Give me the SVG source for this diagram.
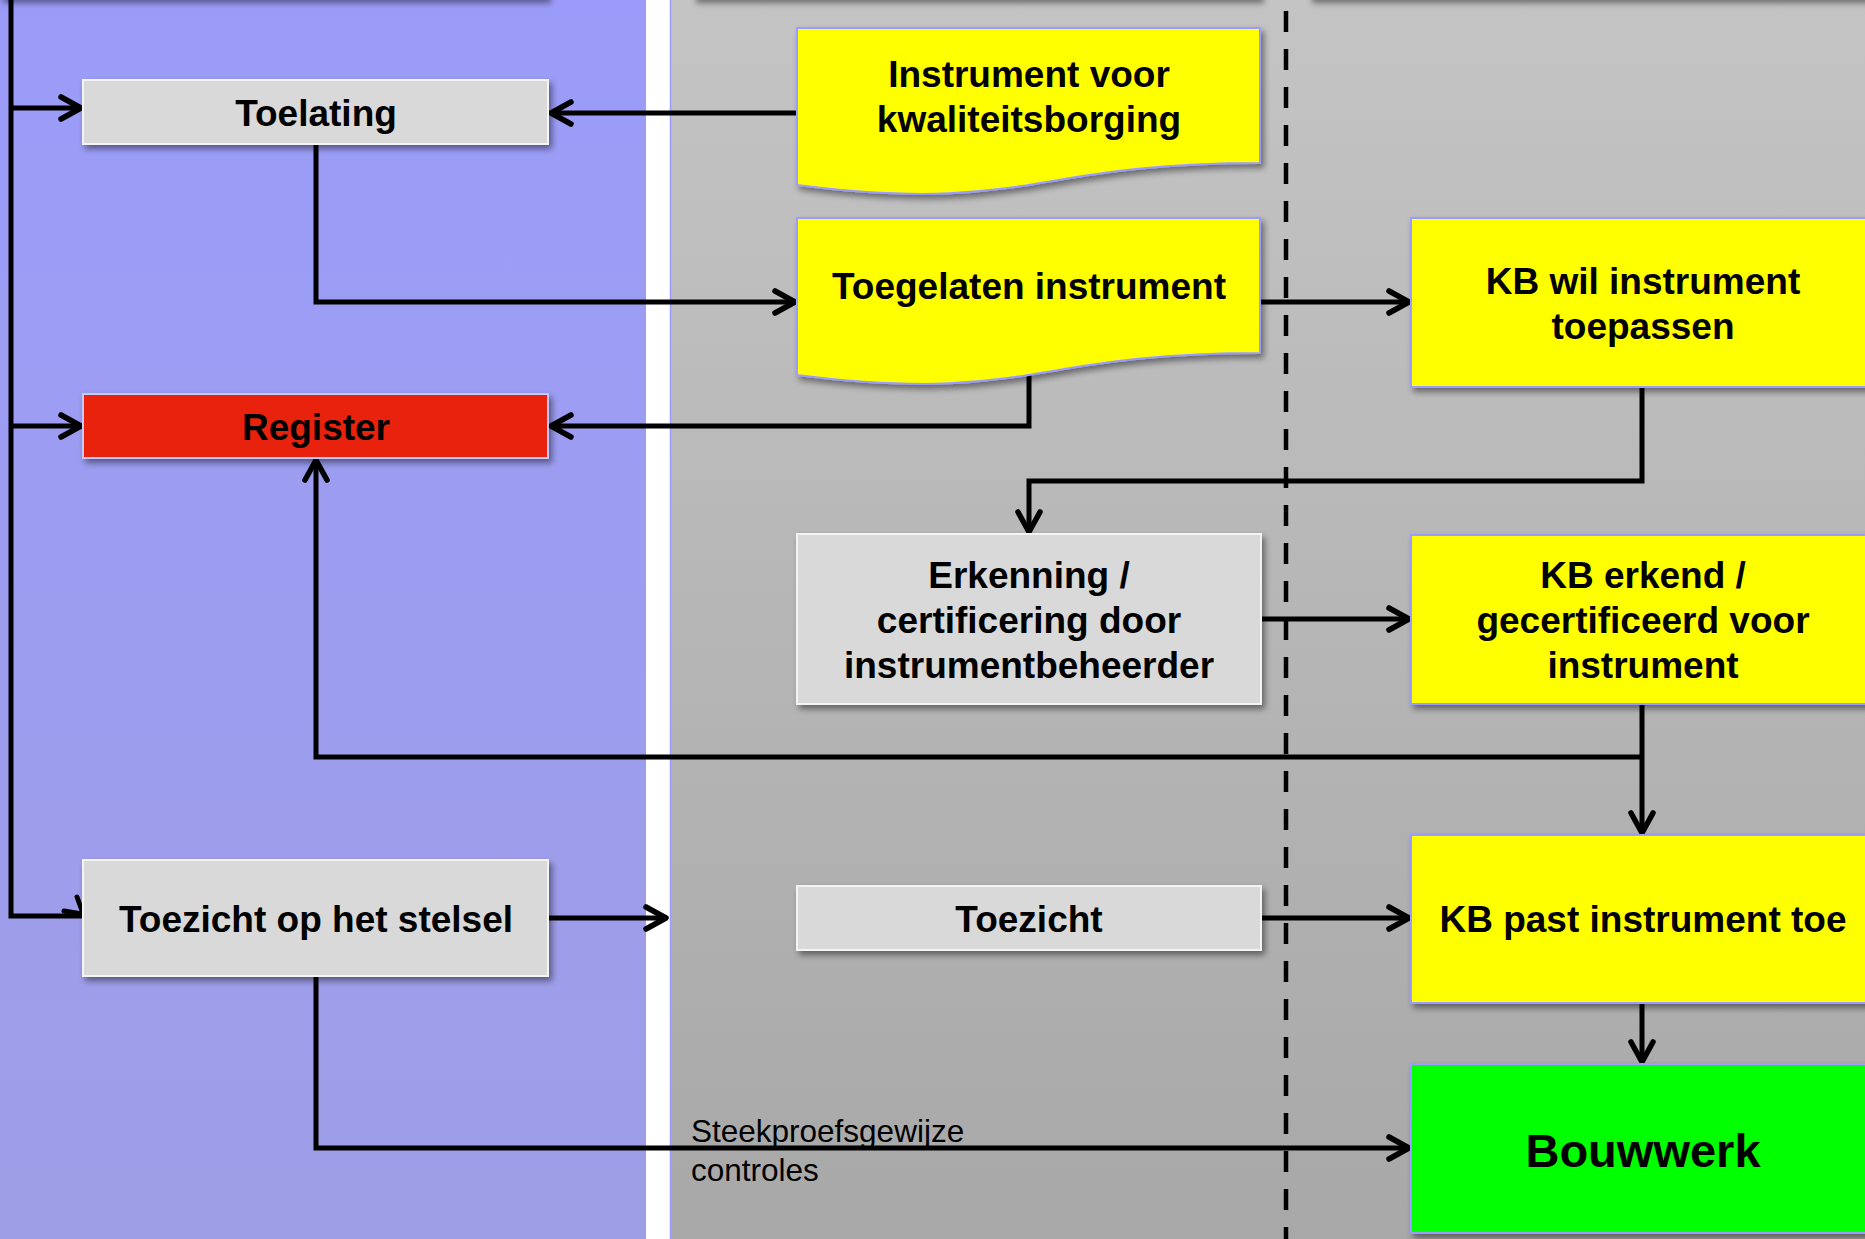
<svg xmlns="http://www.w3.org/2000/svg" width="1865" height="1239" viewBox="0 0 1865 1239">
<defs>
<linearGradient id="gBlue" x1="0" y1="0" x2="0" y2="1">
<stop offset="0" stop-color="#9b9cf9"/>
<stop offset="1" stop-color="#9e9ee6"/>
</linearGradient>
<linearGradient id="gGray" x1="0" y1="0" x2="0" y2="1">
<stop offset="0" stop-color="#c4c4c4"/>
<stop offset="1" stop-color="#a8a8a8"/>
</linearGradient>
<filter id="sh" x="-10%" y="-10%" width="125%" height="130%">
<feDropShadow dx="3" dy="4" stdDeviation="3" flood-color="#000" flood-opacity="0.45"/>
</filter>
<marker id="arr" markerUnits="userSpaceOnUse" markerWidth="40" markerHeight="40" viewBox="-30 -20 40 40" refX="0" refY="0" orient="auto" overflow="visible">
<path d="M-20,-11 L0,0 L-20,11" fill="none" stroke="#000" stroke-width="5.5" stroke-linecap="round" stroke-linejoin="round"/>
</marker>
<style>
.t{font-family:"Liberation Sans",Arial,sans-serif;font-weight:bold;font-size:37px;fill:#000;text-anchor:middle}
.lbl{font-family:"Liberation Sans",Arial,sans-serif;font-size:31.5px;fill:#000}
.gbox{fill:#d9d9d9;stroke:#f4f4f4;stroke-width:2}
.ybox{fill:#ffff00;stroke:#9c9cff;stroke-width:2}
.c{fill:none;stroke:#000;stroke-width:5;stroke-linejoin:miter}
.ca{fill:none;stroke:#000;stroke-width:5;marker-end:url(#arr)}
</style>
</defs>

<g id="background">
<rect x="0" y="0" width="646" height="1239" fill="url(#gBlue)"/>
<rect x="646" y="0" width="24" height="1239" fill="#ffffff"/>
<rect x="670" y="0" width="1195" height="1239" fill="url(#gGray)"/>
<line x1="670.5" y1="0" x2="670.5" y2="1239" stroke="#9c9cff" stroke-width="1.5"/>
<rect x="0" y="-60" width="548" height="59" fill="#9b9cf9" filter="url(#sh)"/>
<rect x="693" y="-60" width="568" height="59" fill="#c4c4c4" filter="url(#sh)"/>
<rect x="1309" y="-60" width="580" height="59" fill="#c4c4c4" filter="url(#sh)"/>
<line x1="1286" y1="11" x2="1286" y2="1239" stroke="#000" stroke-width="4.5" stroke-dasharray="21 17"/>
</g>

<g id="connectors">
<path class="c" d="M11,0 V916 H84"/>
<path class="c" d="M77,897 L84,916 M64,911 L82,914" stroke-linecap="round"/>
<path class="ca" d="M11,108 H81"/>
<path class="ca" d="M11,426 H81"/>
<path class="ca" d="M797,113 H551"/>
<path class="ca" d="M316,144 V302 H795"/>
<path class="ca" d="M1029,375 V426 H551"/>
<path class="ca" d="M1261,302 H1409"/>
<path class="ca" d="M1642,387 V481 H1029 V532"/>
<path class="ca" d="M1261,619 H1409"/>
<path class="ca" d="M1642,704 V833"/>
<path class="ca" d="M1642,757 H316 V460"/>
<path class="ca" d="M548,918 H666" stroke-width="6"/>
<path class="ca" d="M1261,918 H1409"/>
<path class="ca" d="M1642,1003 V1062"/>
<path class="ca" d="M316,976 V1148 H1409"/>
<text class="lbl" x="691" y="1142">Steekproefsgewijze</text>
<text class="lbl" x="691" y="1181">controles</text>
</g>

<g id="n-toelating">
<rect class="gbox" x="83" y="80" width="465" height="64" filter="url(#sh)"/>
<text class="t" x="316" y="126">Toelating</text>
</g>

<g id="n-register">
<rect x="83" y="394" width="465" height="64" fill="#e8240a" stroke="#c8c8f8" stroke-width="2" filter="url(#sh)"/>
<text class="t" x="316" y="440">Register</text>
</g>

<g id="n-toezicht-stelsel">
<rect class="gbox" x="83" y="860" width="465" height="116" filter="url(#sh)"/>
<text class="t" x="316" y="932">Toezicht op het stelsel</text>
</g>

<g id="n-instrument">
<path class="ybox" d="M797,28 H1260 V163 C1028.5,163 1028.5,214 797,185 Z" filter="url(#sh)"/>
<text class="t" x="1029" y="87">Instrument voor</text>
<text class="t" x="1029" y="132">kwaliteitsborging</text>
</g>

<g id="n-toegelaten">
<path class="ybox" d="M797,218 H1260 V353 C1028.5,353 1028.5,404 797,375 Z" filter="url(#sh)"/>
<text class="t" x="1029" y="299">Toegelaten instrument</text>
</g>

<g id="n-kb-wil">
<rect class="ybox" x="1411" y="218" width="470" height="169" filter="url(#sh)"/>
<text class="t" x="1643" y="294">KB wil instrument</text>
<text class="t" x="1643" y="339">toepassen</text>
</g>

<g id="n-erkenning">
<rect class="gbox" x="797" y="534" width="464" height="170" filter="url(#sh)"/>
<text class="t" x="1029" y="588">Erkenning /</text>
<text class="t" x="1029" y="633">certificering door</text>
<text class="t" x="1029" y="678">instrumentbeheerder</text>
</g>

<g id="n-kb-erkend">
<rect class="ybox" x="1411" y="535" width="470" height="169" filter="url(#sh)"/>
<text class="t" x="1643" y="588">KB erkend /</text>
<text class="t" x="1643" y="633">gecertificeerd voor</text>
<text class="t" x="1643" y="678">instrument</text>
</g>

<g id="n-toezicht">
<rect class="gbox" x="797" y="886" width="464" height="64" filter="url(#sh)"/>
<text class="t" x="1029" y="932">Toezicht</text>
</g>

<g id="n-kb-past">
<rect class="ybox" x="1411" y="835" width="470" height="168" filter="url(#sh)"/>
<text class="t" x="1643" y="932">KB past instrument toe</text>
</g>

<g id="n-bouwwerk">
<rect x="1411" y="1064" width="470" height="169" fill="#00ff00" stroke="#9c9cff" stroke-width="2" filter="url(#sh)"/>
<text class="t" x="1643" y="1167" style="font-size:47px">Bouwwerk</text>
</g>
</svg>
